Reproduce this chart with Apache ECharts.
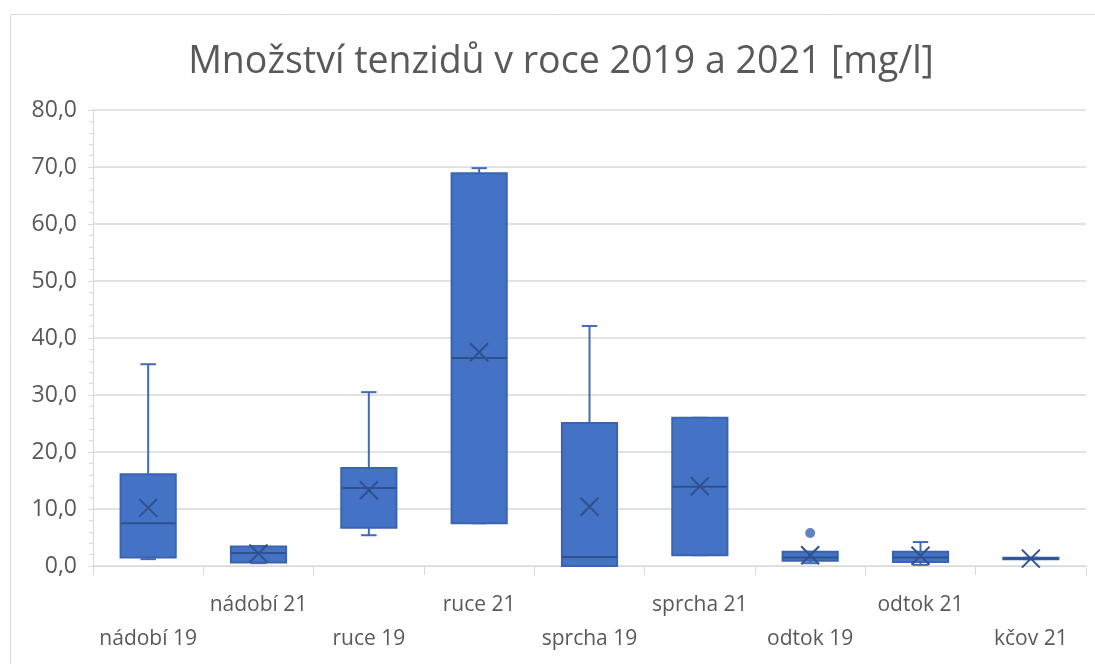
<!DOCTYPE html>
<html>
<head>
<meta charset="utf-8">
<script src="https://cdn.jsdelivr.net/npm/echarts@6/dist/echarts.min.js"></script>
<style>
  html, body { margin: 0; padding: 0; background: #fff; }
  #chart { width: 1095px; height: 664px; }
</style>
</head>
<body>
<div id="chart"></div>
<script>
// kategorie a hodnoty krabicových grafů (mg/l)
var categories = ['nádobí 19', 'nádobí 21', 'ruce 19', 'ruce 21', 'sprcha 19', 'sprcha 21', 'odtok 19', 'odtok 21', 'kčov 21'];
var mins    = [1.2, 0.5, 5.4, 7.5, 0.0, 1.9, 0.5, 0.2, 1.2];
var q1s     = [1.5, 0.6, 6.7, 7.5, 0.0, 1.9, 0.9, 0.7, 1.2];
var medians = [7.5, 2.3, 13.7, 36.5, 1.6, 13.9, 1.5, 1.5, 1.3];
var q3s     = [16.1, 3.4, 17.2, 68.9, 25.1, 26.0, 2.5, 2.5, 1.45];
var maxs    = [35.4, 3.5, 30.5, 69.8, 42.1, 26.0, 2.5, 4.2, 1.45];
var means   = [10.2, 2.2, 13.3, 37.5, 10.4, 14.0, 1.9, 1.8, 1.3];
// odlehlé hodnoty [index kategorie, hodnota]
var outliers = [[6, 5.8]];

var blue = '#4472C4';
var dark = '#2F528F';
var labelFont = '"Open Sans", sans-serif';

var boxData = [];
for (var i = 0; i < categories.length; i++) {
  boxData.push([i, mins[i], q1s[i], medians[i], q3s[i], maxs[i], means[i]]);
}

function renderBox(params, api) {
  var idx = api.value(0);
  var band = api.size([1, 0])[0];
  var bw = band * 0.5;
  var cw = band * 0.14;
  var pMin = api.coord([idx, api.value(1)]);
  var pQ1 = api.coord([idx, api.value(2)]);
  var pMed = api.coord([idx, api.value(3)]);
  var pQ3 = api.coord([idx, api.value(4)]);
  var pMax = api.coord([idx, api.value(5)]);
  var pMean = api.coord([idx, api.value(6)]);
  var x = pMin[0];
  var wStyle = { stroke: '#3F6BBA', lineWidth: 2 };
  var m = 9;
  return {
    type: 'group',
    children: [
      { type: 'line', shape: { x1: x, y1: pMin[1], x2: x, y2: pQ1[1] }, style: wStyle },
      { type: 'line', shape: { x1: x, y1: pQ3[1], x2: x, y2: pMax[1] }, style: wStyle },
      { type: 'line', shape: { x1: x - cw / 2, y1: pMin[1], x2: x + cw / 2, y2: pMin[1] }, style: wStyle },
      { type: 'line', shape: { x1: x - cw / 2, y1: pMax[1], x2: x + cw / 2, y2: pMax[1] }, style: wStyle },
      { type: 'rect', shape: { x: x - bw / 2, y: pQ3[1], width: bw, height: Math.max(pQ1[1] - pQ3[1], 1) },
        style: { fill: blue, stroke: '#3A64B0', lineWidth: 2 } },
      { type: 'line', shape: { x1: x - bw / 2, y1: pMed[1], x2: x + bw / 2, y2: pMed[1] }, style: { stroke: dark, lineWidth: 2 } },
      { type: 'line', shape: { x1: x - m, y1: pMean[1] - m, x2: x + m, y2: pMean[1] + m }, style: { stroke: dark, lineWidth: 2 } },
      { type: 'line', shape: { x1: x - m, y1: pMean[1] + m, x2: x + m, y2: pMean[1] - m }, style: { stroke: dark, lineWidth: 2 } }
    ]
  };
}

var chart = echarts.init(document.getElementById('chart'));
chart.setOption({
  backgroundColor: '#fff',
  animation: false,
  title: {
    text: 'Množství tenzidů v roce 2019 a 2021 [mg/l]',
    left: 556,
    textAlign: 'center',
    top: 38,
    textStyle: { fontFamily: labelFont, fontSize: 37.5, fontWeight: 'normal', color: '#595959' }
  },
  graphic: [{
    type: 'rect',
    shape: { x: 10.5, y: 14.5, width: 1100, height: 700 },
    style: { fill: 'none', stroke: '#d9d9d9', lineWidth: 1 },
    silent: true
  }],
  grid: { left: 93, right: 9, top: 110, bottom: 98 },
  xAxis: {
    type: 'category',
    data: categories,
    axisLine: { lineStyle: { color: '#d9d9d9', width: 1 } },
    axisTick: { show: true, length: 9, lineStyle: { color: '#d9d9d9' } },
    axisLabel: {
      interval: 0,
      margin: 22,
      fontFamily: labelFont,
      fontSize: 21,
      color: '#595959',
      lineHeight: 34,
      formatter: function (value, index) {
        return index % 2 === 0 ? '\n' + value : value;
      }
    }
  },
  yAxis: {
    type: 'value',
    min: 0,
    max: 80,
    interval: 10,
    axisLine: { show: true, lineStyle: { color: '#d9d9d9' } },
    axisTick: { show: true, length: 5, lineStyle: { color: '#d9d9d9' } },
    minorTick: { show: true, splitNumber: 5, length: 4, lineStyle: { color: '#d9d9d9' } },
    splitLine: { lineStyle: { color: '#d9d9d9', width: 1.5 } },
    axisLabel: {
      margin: 16,
      fontFamily: labelFont,
      fontSize: 23,
      color: '#595959',
      formatter: function (v) { return v.toFixed(1).replace('.', ','); }
    }
  },
  series: [
    {
      type: 'custom',
      renderItem: renderBox,
      data: boxData,
      encode: { x: 0, y: [1, 2, 3, 4, 5, 6] },
      z: 3
    },
    {
      type: 'scatter',
      data: outliers,
      symbol: 'circle',
      symbolSize: 10,
      itemStyle: { color: '#3A64B0' },
      z: 4
    }
  ]
});
</script>
</body>
</html>
